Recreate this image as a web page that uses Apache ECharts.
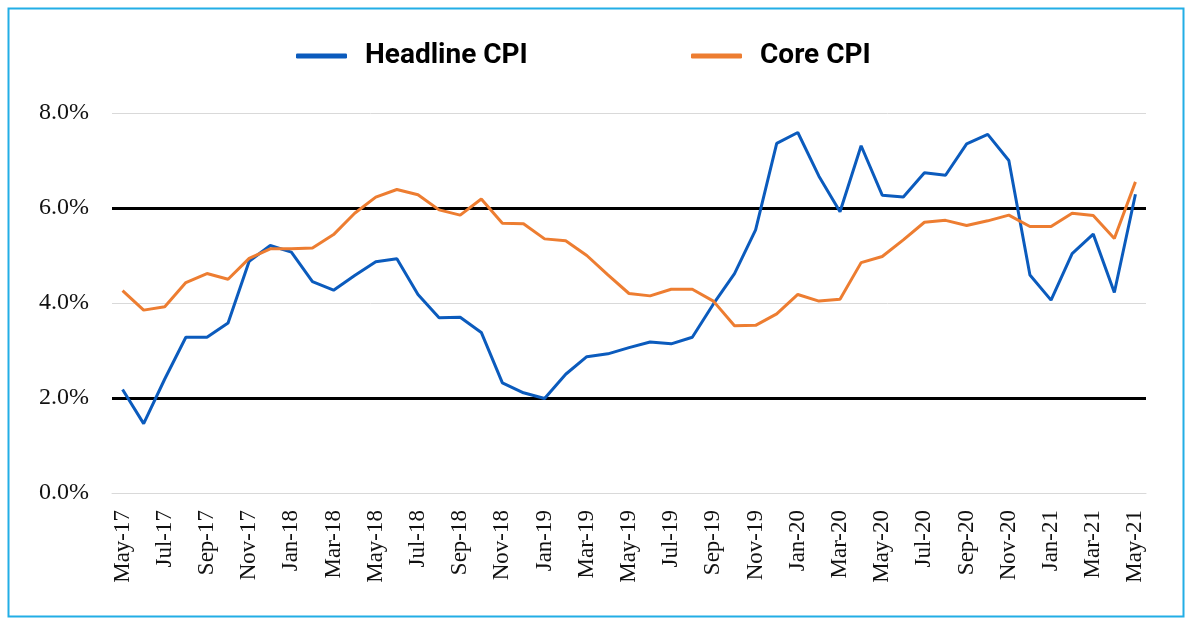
<!DOCTYPE html>
<html><head><meta charset="utf-8">
<script src="https://cdn.jsdelivr.net/npm/echarts@6/dist/echarts.min.js"></script>
<style>html,body{margin:0;padding:0;background:#fff}#c{width:1188px;height:621px}</style>
</head><body><div id="c"></div>
<script>
const months = ['May-17','Jun-17','Jul-17','Aug-17','Sep-17','Oct-17','Nov-17','Dec-17',
'Jan-18','Feb-18','Mar-18','Apr-18','May-18','Jun-18','Jul-18','Aug-18','Sep-18','Oct-18','Nov-18','Dec-18',
'Jan-19','Feb-19','Mar-19','Apr-19','May-19','Jun-19','Jul-19','Aug-19','Sep-19','Oct-19','Nov-19','Dec-19',
'Jan-20','Feb-20','Mar-20','Apr-20','May-20','Jun-20','Jul-20','Aug-20','Sep-20','Oct-20','Nov-20','Dec-20',
'Jan-21','Feb-21','Mar-21','Apr-21','May-21'];
const headlineCPI = [2.18,1.46,2.40,3.28,3.28,3.58,4.88,5.21,5.07,4.45,4.27,4.58,4.87,4.93,4.18,3.69,3.70,3.38,2.32,2.11,
1.99,2.50,2.87,2.93,3.06,3.18,3.14,3.28,3.98,4.62,5.54,7.36,7.59,6.67,5.92,7.31,6.27,6.23,6.74,6.69,
7.35,7.55,7.00,4.59,4.06,5.04,5.45,4.22,6.29];
const coreCPI = [4.26,3.85,3.92,4.43,4.62,4.50,4.94,5.14,5.14,5.16,5.44,5.89,6.23,6.39,6.28,5.96,5.85,6.19,5.68,5.67,
5.35,5.31,5.00,4.59,4.20,4.15,4.29,4.29,4.04,3.52,3.53,3.77,4.18,4.04,4.08,4.85,4.98,5.33,5.70,5.74,
5.63,5.73,5.85,5.61,5.61,5.89,5.84,5.36,6.55];
const toleranceBand = [2, 6];
const yTicks = {min: 0, max: 8, interval: 2};

const chart = echarts.init(document.getElementById('c'));
const legendText = {fontFamily: 'Roboto', fontWeight: 'bold', fontSize: 28, color: '#000', padding: [0,0,0,13]};
chart.setOption({
  animation: false,
  graphic: [{type: 'rect', left: 6, top: 6, shape: {width: 1175, height: 608},
    style: {fill: 'none', stroke: '#22aee6', lineWidth: 2}, silent: true}],
  legend: [
    {data: ['Headline CPI'], left: 291, top: 37, icon: 'roundRect', itemWidth: 51, itemHeight: 5, textStyle: legendText},
    {data: ['Core CPI'], left: 686, top: 37, icon: 'roundRect', itemWidth: 51, itemHeight: 5, textStyle: legendText}
  ],
  grid: {left: 112, right: 42, top: 113, bottom: 128, containLabel: false},
  xAxis: {
    type: 'category', data: months, boundaryGap: true,
    axisLine: {lineStyle: {color: '#d9d9d9', width: 1}},
    axisTick: {interval: 1, length: 6, lineStyle: {color: '#d9d9d9'}},
    axisLabel: {interval: 1, rotate: 90, margin: 17, fontFamily: 'Liberation Serif', fontSize: 23, color: '#111'}
  },
  yAxis: {
    type: 'value', min: yTicks.min, max: yTicks.max, interval: yTicks.interval,
    axisLine: {show: false}, axisTick: {show: false},
    splitLine: {lineStyle: {color: '#d9d9d9', width: 1}},
    axisLabel: {margin: 23, fontFamily: 'Liberation Serif', fontSize: 24, color: '#111',
      formatter: v => v.toFixed(1) + '%'}
  },
  series: [
    {name: 'Headline CPI', type: 'line', data: headlineCPI, symbol: 'none', z: 3,
      lineStyle: {color: '#0b5bbd', width: 3}, itemStyle: {color: '#0b5bbd'},
      markLine: {silent: true, symbol: 'none', label: {show: false}, z: 2,
        lineStyle: {color: '#000', width: 3, type: 'solid'},
        data: toleranceBand.map(v => ({yAxis: v}))}},
    {name: 'Core CPI', type: 'line', data: coreCPI, symbol: 'none', z: 3,
      lineStyle: {color: '#ed7d31', width: 3}, itemStyle: {color: '#ed7d31'}}
  ]
});
</script></body></html>
